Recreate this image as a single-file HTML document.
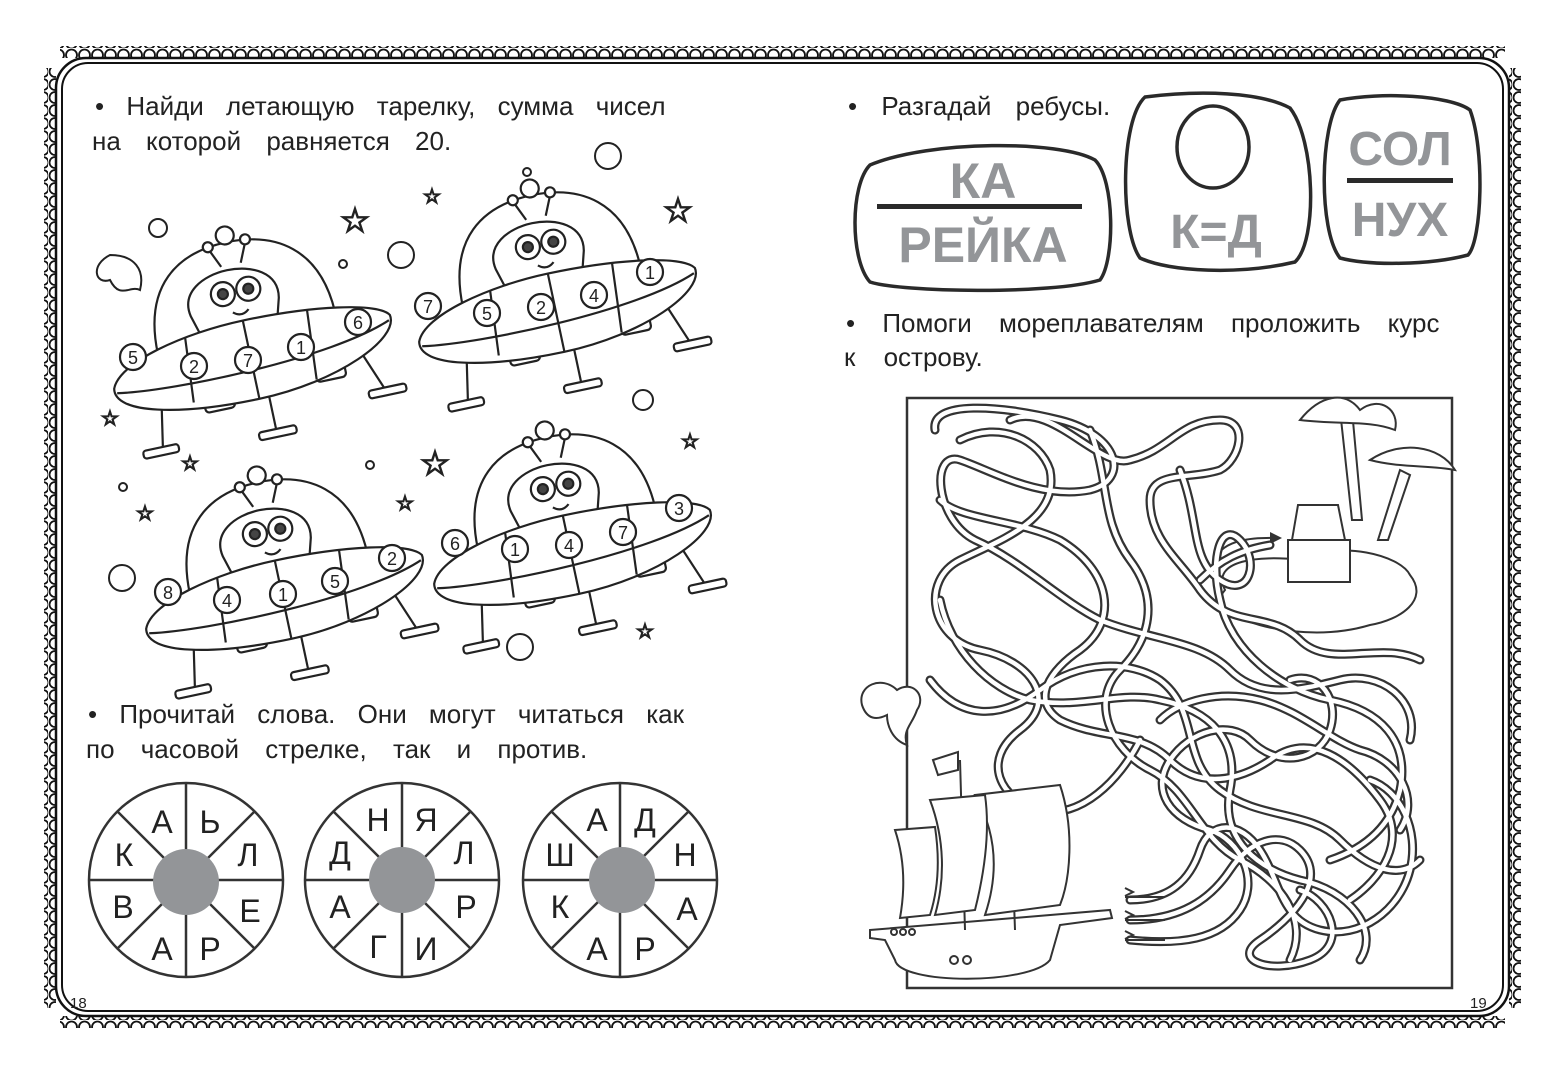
<!DOCTYPE html>
<html><head><meta charset="utf-8"><style>
html,body{margin:0;padding:0;background:#fff}
svg{display:block}
text{font-family:"Liberation Sans",sans-serif}
</style></head><body>
<svg width="1565" height="1080" viewBox="0 0 1565 1080" xmlns="http://www.w3.org/2000/svg">
<defs>
<pattern id="sh" x="0" y="0" width="13" height="12" patternUnits="userSpaceOnUse"><circle cx="6.5" cy="7" r="5.5" fill="#fff" stroke="#111" stroke-width="1.8"/></pattern>
<pattern id="sv" x="0" y="0" width="12" height="13" patternUnits="userSpaceOnUse"><circle cx="7" cy="6.5" r="5.5" fill="#fff" stroke="#111" stroke-width="1.8"/></pattern>
<g id="ufo" fill="#fff" stroke="#222" stroke-width="2.2">
  <line x1="-95" y1="30" x2="-105" y2="85"/><rect x="-125" y="82" width="36" height="8" rx="3"/>
  <line x1="10" y1="40" x2="10" y2="90"/><rect x="-8" y="88" width="38" height="8" rx="3"/>
  <line x1="105" y1="20" x2="125" y2="72"/><rect x="108" y="70" width="38" height="8" rx="3"/>
  <rect x="-55" y="30" width="30" height="28" rx="4"/><rect x="60" y="25" width="30" height="26" rx="4"/>
  <path d="M-90,-10 C-90,-80 -50,-105 0,-105 C50,-105 90,-80 92,-15 Z"/>
  <circle cx="0" cy="-112" r="9"/>
  <path d="M-50,-40 C-60,-90 50,-90 40,-40 L30,-5 L-40,-5 Z"/>
  <circle cx="-14" cy="-55" r="12"/><circle cx="12" cy="-55" r="12"/>
  <circle cx="-14" cy="-55" r="5" fill="#444"/><circle cx="12" cy="-55" r="5" fill="#444"/>
  <path d="M-8,-35 Q0,-28 8,-35" fill="none"/>
  <line x1="-10" y1="-82" x2="-18" y2="-100"/><circle cx="-19" cy="-104" r="5"/>
  <line x1="10" y1="-82" x2="18" y2="-100"/><circle cx="19" cy="-104" r="5"/>
  <path d="M-140,15 C-130,-10 -60,-25 0,-25 C70,-25 135,-15 145,0 C150,25 80,55 0,55 C-80,55 -145,40 -140,15 Z"/>
  <path d="M-138,20 C-80,30 80,30 143,5" fill="none"/>
  <path d="M-60,-20 L-65,45 M0,-25 L0,55 M65,-22 L60,48" fill="none"/>
</g>
<g id="maze" fill="none" stroke-linecap="round">
<path d="M935,430 C930,400 1000,405 1060,420 C1120,435 1130,480 1090,490 C1040,500 990,470 960,460 C930,450 935,520 975,540 C1020,560 1060,600 1100,620 C1150,640 1200,640 1230,670 C1260,700 1300,690 1340,680 C1380,670 1420,700 1410,740"/>
<path d="M960,440 C1000,420 1040,440 1050,470 C1060,520 1000,540 960,560 C920,580 930,640 980,650 C1030,660 1060,700 1020,730 C980,760 1000,800 1040,810 C1080,820 1120,780 1140,740"/>
<path d="M1010,420 C1050,400 1100,470 1130,460 C1170,450 1180,420 1220,420 C1250,420 1240,460 1220,470 C1190,480 1150,470 1150,500 C1150,540 1180,560 1200,590 C1230,630 1270,610 1300,640 C1330,670 1380,640 1420,660"/>
<path d="M940,500 C960,520 1020,520 1060,540 C1110,570 1120,620 1080,650 C1050,670 1030,700 1060,720 C1100,740 1140,730 1170,760 C1200,790 1240,780 1270,760 C1310,730 1350,760 1380,800 C1410,840 1380,880 1350,900"/>
<path d="M1090,430 C1110,480 1100,520 1130,560 C1160,600 1150,640 1120,670 C1090,700 1110,750 1150,770 C1190,790 1200,840 1240,860 C1280,880 1310,920 1290,960"/>
<path d="M940,600 C950,650 990,690 1030,700 C1080,710 1120,690 1160,700 C1210,710 1240,740 1230,790 C1220,840 1260,870 1300,880 C1350,890 1380,930 1360,960"/>
<path d="M930,680 C960,720 1000,720 1040,690 C1080,660 1130,660 1160,680 C1200,710 1180,760 1220,790 C1260,820 1310,810 1340,840 C1370,870 1400,880 1420,860"/>
<path d="M1180,470 C1200,520 1190,560 1220,580 C1250,600 1260,560 1240,540 C1220,520 1210,560 1220,600 C1230,650 1280,690 1330,700 C1380,710 1410,740 1400,790 C1390,830 1360,850 1330,860"/>
<path d="M1130,920 C1180,920 1210,900 1230,870 C1250,840 1280,830 1300,850 C1330,880 1290,920 1260,940 C1230,960 1270,975 1310,960 C1350,945 1330,900 1300,890"/>
<path d="M1130,900 C1170,900 1190,880 1200,850 C1210,820 1240,820 1260,850 C1280,880 1280,920 1320,930 C1360,940 1400,910 1410,870 C1420,830 1400,790 1370,780"/>
<path d="M1130,940 C1180,945 1220,940 1240,910 C1260,880 1240,840 1210,830 C1170,820 1150,790 1170,760 C1190,730 1230,720 1250,740 C1280,770 1320,760 1330,730 C1340,700 1320,670 1290,680"/>
<path d="M1200,580 C1220,560 1240,550 1270,545"/>
<path d="M1160,720 C1180,700 1220,690 1260,700 C1300,710 1330,740 1360,750 C1400,760 1420,800 1400,830"/>
</g>
</defs>

<rect x="60" y="46" width="1445" height="12" fill="url(#sh)"/>
<rect x="60" y="1016" width="1445" height="12" fill="url(#sh)"/>
<rect x="44" y="68" width="12" height="940" fill="url(#sv)"/>
<rect x="1509" y="68" width="12" height="940" fill="url(#sv)"/>
<rect x="56" y="58" width="1453" height="958" rx="30" fill="#fff" stroke="#111" stroke-width="2.5"/>
<rect x="62" y="63" width="1441" height="948" rx="26" fill="#fff" stroke="#111" stroke-width="2"/>

<g font-size="26" fill="#222">
<text x="95" y="115" style="word-spacing:15px">• Найди летающую тарелку, сумма чисел</text>
<text x="92" y="150" style="word-spacing:18px">на которой равняется 20.</text>
<text x="88" y="723" style="word-spacing:15px">• Прочитай слова. Они могут читаться как</text>
<text x="86" y="758" style="word-spacing:19px">по часовой стрелке, так и против.</text>
<text x="848" y="115" style="word-spacing:17px">• Разгадай ребусы.</text>
<text x="846" y="332" style="word-spacing:20px">• Помоги мореплавателям проложить курс</text>
<text x="844" y="366" style="word-spacing:21px">к острову.</text>
</g>
<text x="70" y="1008" font-size="15" fill="#222">18</text>
<text x="1470" y="1008" font-size="15" fill="#222">19</text>

<use href="#ufo" transform="translate(248,345) rotate(-12)"/>
<use href="#ufo" transform="translate(553,298) rotate(-12)"/>
<use href="#ufo" transform="translate(280,585) rotate(-12)"/>
<use href="#ufo" transform="translate(568,540) rotate(-12)"/>
<g fill="#fff" stroke="#222" stroke-width="2.2">
<circle cx="133" cy="357" r="13"/><circle cx="194" cy="366" r="13"/><circle cx="248" cy="360" r="13"/><circle cx="301" cy="347" r="13"/><circle cx="358" cy="322" r="13"/>
<circle cx="428" cy="306" r="13"/><circle cx="487" cy="313" r="13"/><circle cx="541" cy="307" r="13"/><circle cx="594" cy="295" r="13"/><circle cx="650" cy="272" r="13"/>
<circle cx="168" cy="592" r="13"/><circle cx="227" cy="600" r="13"/><circle cx="283" cy="594" r="13"/><circle cx="335" cy="581" r="13"/><circle cx="392" cy="558" r="13"/>
<circle cx="455" cy="543" r="13"/><circle cx="515" cy="549" r="13"/><circle cx="569" cy="545" r="13"/><circle cx="623" cy="532" r="13"/><circle cx="679" cy="508" r="13"/>
</g>
<g font-size="18" fill="#222" text-anchor="middle">
<text x="133" y="364">5</text><text x="194" y="373">2</text><text x="248" y="367">7</text><text x="301" y="354">1</text><text x="358" y="329">6</text>
<text x="428" y="313">7</text><text x="487" y="320">5</text><text x="541" y="314">2</text><text x="594" y="302">4</text><text x="650" y="279">1</text>
<text x="168" y="599">8</text><text x="227" y="607">4</text><text x="283" y="601">1</text><text x="335" y="588">5</text><text x="392" y="565">2</text>
<text x="455" y="550">6</text><text x="515" y="556">1</text><text x="569" y="552">4</text><text x="623" y="539">7</text><text x="679" y="515">3</text>
</g>
<g fill="#fff" stroke="#222" stroke-width="2">
<circle cx="158" cy="228" r="9"/><circle cx="401" cy="255" r="13"/><circle cx="608" cy="156" r="13"/><circle cx="643" cy="400" r="10"/><circle cx="122" cy="578" r="13"/><circle cx="520" cy="647" r="13"/>
<circle cx="343" cy="264" r="4"/><circle cx="370" cy="465" r="4"/><circle cx="123" cy="487" r="4"/><circle cx="527" cy="172" r="4"/>
<path d="M110,255 c-20,10 -15,30 0,25 c10,20 20,5 30,10 c5,-20 -5,-35 -30,-35z"/>
</g>
<g font-size="20" fill="#fff" stroke="#222" stroke-width="1.5" text-anchor="middle">
<text x="432" y="203">☆</text><text x="110" y="425">☆</text><text x="190" y="470">☆</text><text x="145" y="520">☆</text><text x="405" y="510">☆</text><text x="690" y="448">☆</text><text x="645" y="638">☆</text>
<text x="355" y="232" font-size="34">☆</text><text x="678" y="222" font-size="34">☆</text><text x="435" y="475" font-size="34">☆</text>
</g>

<g stroke="#333" stroke-width="2.5" fill="none">
<circle cx="186" cy="880" r="97"/><circle cx="402" cy="880" r="97"/><circle cx="620" cy="880" r="97"/>
<path d="M186,783 V977 M89,880 H283 M117,811 L255,949 M255,811 L117,949"/>
<path d="M402,783 V977 M305,880 H499 M333,811 L471,949 M471,811 L333,949"/>
<path d="M620,783 V977 M523,880 H717 M551,811 L689,949 M689,811 L551,949"/>
</g>
<g fill="#939598"><circle cx="186" cy="882" r="33"/><circle cx="402" cy="880" r="33"/><circle cx="622" cy="880" r="33"/></g>
<g font-size="32" fill="#222" text-anchor="middle">
<text x="162" y="833">А</text><text x="210" y="833">Ь</text><text x="248" y="866">Л</text><text x="250" y="922">Е</text><text x="210" y="960">Р</text><text x="162" y="960">А</text><text x="123" y="918">В</text><text x="124" y="866">К</text>
<text x="378" y="831">Н</text><text x="426" y="831">Я</text><text x="464" y="864">Л</text><text x="466" y="918">Р</text><text x="426" y="960">И</text><text x="378" y="958">Г</text><text x="340" y="918">А</text><text x="340" y="864">Д</text>
<text x="597" y="831">А</text><text x="645" y="831">Д</text><text x="685" y="866">Н</text><text x="687" y="920">А</text><text x="645" y="960">Р</text><text x="597" y="960">А</text><text x="560" y="918">К</text><text x="560" y="866">Ш</text>
</g>

<g fill="#fff" stroke="#2a2a2a" stroke-width="3.5">
<path d="M870,165 C930,140 1060,140 1095,160 C1115,180 1115,260 1100,280 C1050,295 900,292 870,282 C850,260 850,185 870,165Z"/>
<path d="M1145,97 C1200,90 1260,92 1290,108 C1315,140 1318,240 1295,262 C1240,275 1170,272 1140,258 C1120,230 1120,120 1145,97Z"/>
<path d="M1340,100 C1380,92 1450,95 1470,110 C1485,150 1482,240 1468,255 C1430,265 1370,266 1340,258 C1318,230 1320,125 1340,100Z"/>
<ellipse cx="1213" cy="147" rx="36" ry="41"/>
</g>
<g fill="#2a2a2a"><rect x="877" y="204" width="205" height="5"/><rect x="1347" y="178" width="106" height="5"/></g>
<g font-weight="bold" fill="#939598" text-anchor="middle">
<text x="983" y="198" font-size="50">КА</text>
<text x="983" y="262" font-size="50">РЕЙКА</text>
<text x="1216" y="248" font-size="48">К=Д</text>
<text x="1400" y="165" font-size="48">СОЛ</text>
<text x="1400" y="236" font-size="48">НУХ</text>
</g>

<rect x="907" y="398" width="545" height="590" fill="none" stroke="#333" stroke-width="2.5"/>
<g fill="#fff" stroke="#333" stroke-width="2">
<path d="M1225,590 C1210,560 1260,555 1300,560 C1340,540 1400,555 1410,575 C1430,600 1400,620 1370,625 C1320,640 1260,630 1235,615 C1215,610 1218,598 1225,590Z"/>
<path d="M1340,410 L1352,520 L1362,520 L1352,410Z"/><path d="M1400,470 L1378,540 L1388,540 L1410,475Z"/>
<path d="M1300,420 C1320,395 1345,390 1360,410 C1380,395 1400,410 1395,430 C1370,420 1340,425 1300,420Z"/>
<path d="M1370,460 C1400,440 1440,445 1455,470 C1430,465 1400,468 1370,460Z"/>
<rect x="1288" y="540" width="62" height="42"/><path d="M1292,540 L1298,505 L1338,505 L1345,540Z"/>
</g>
<path d="M1215,558 C1225,540 1250,537 1280,538" fill="none" stroke="#333" stroke-width="2"/>
<path d="M1270,532 l12,6 l-12,6z" fill="#333"/>
<use href="#maze" stroke="#333" stroke-width="9"/>
<use href="#maze" stroke="#fff" stroke-width="4.5"/>
<g stroke="#333" stroke-width="2" fill="none">
<path d="M1125,897 H1165 M1125,920 H1165 M1125,940 H1165"/>
<path d="M1125,888 l8,4 l-8,4 M1125,911 l8,4 l-8,4 M1125,931 l8,4 l-8,4"/>
</g>
<g fill="#fff" stroke="#333" stroke-width="2">
<path d="M870,930 L1110,910 L1112,918 L1060,925 L1050,960 C1030,985 900,985 895,960 L885,940 L870,938Z"/>
<path d="M960,760 L965,930 M1010,790 L1015,930"/>
<path d="M975,795 L1060,785 C1075,830 1070,880 1060,905 L985,915 C1000,870 995,830 975,795Z"/>
<path d="M930,800 L985,795 C990,830 985,870 975,910 L935,915 C945,880 945,840 930,800Z"/>
<path d="M895,830 L935,827 C940,860 938,890 930,915 L900,918 C905,890 905,860 895,830Z"/>
<path d="M933,760 l25,-8 l0,18 l-20,5z"/>
<path d="M862,705 c-5,-20 20,-30 35,-15 c15,-10 30,5 20,20 c-5,15 -15,20 -10,35 c-15,-5 -20,-20 -20,-30 c-10,5 -20,5 -25,-10z"/>
<circle cx="894" cy="932" r="3"/><circle cx="903" cy="932" r="3"/><circle cx="912" cy="932" r="3"/><circle cx="954" cy="960" r="4"/><circle cx="967" cy="960" r="4"/>
</g>
</svg>
</body></html>
